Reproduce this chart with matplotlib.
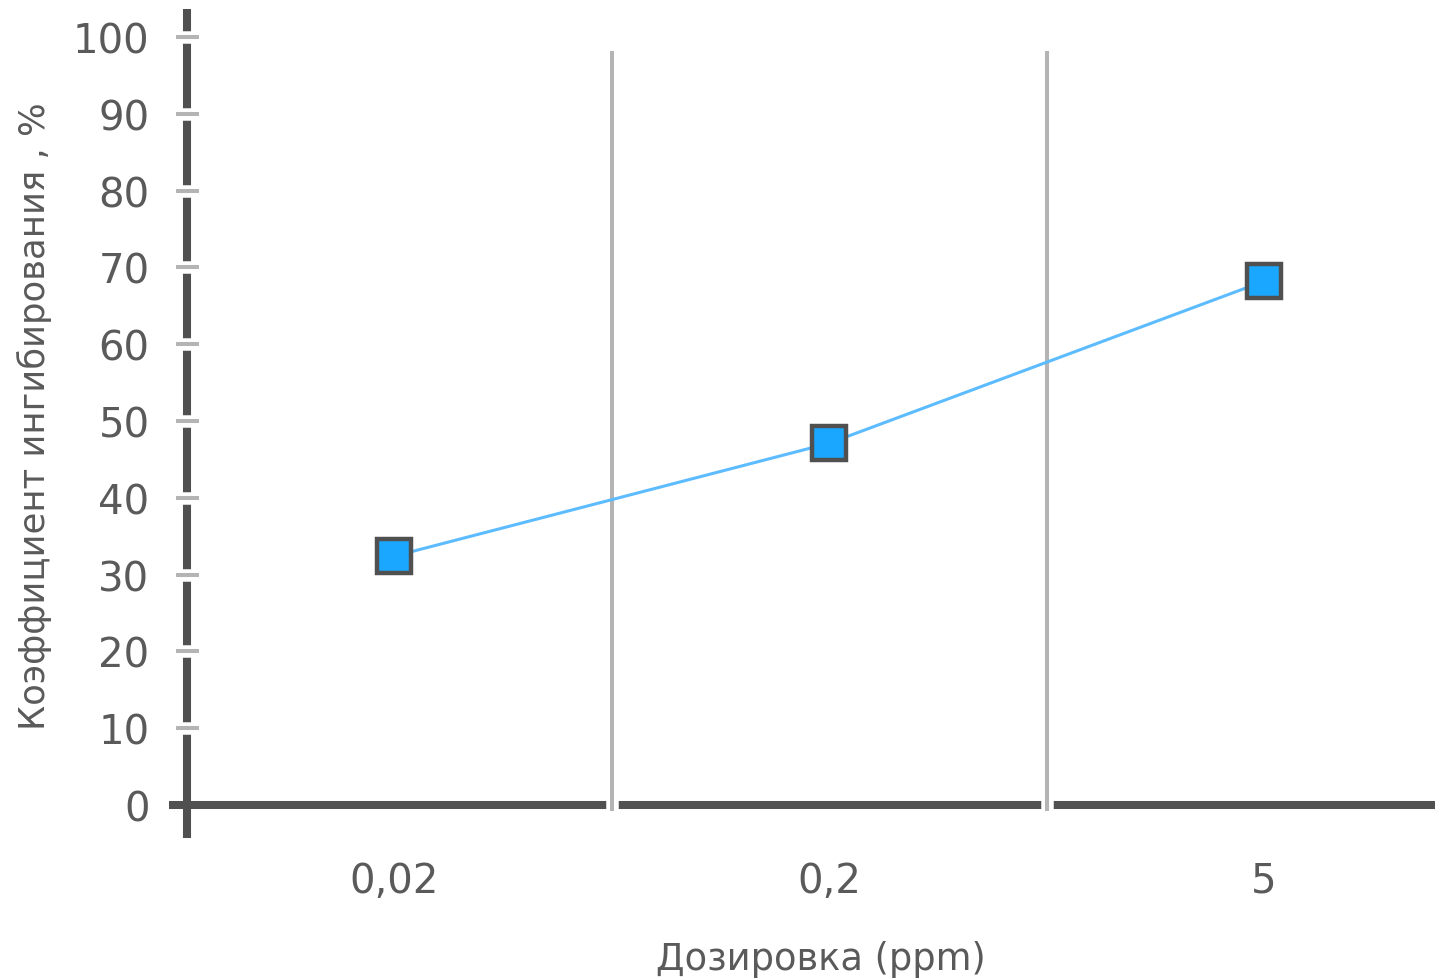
import matplotlib
matplotlib.use("Agg")
import matplotlib.pyplot as plt
import matplotlib.patheffects as pe
import matplotlib.transforms as mtransforms

# данные
doses = ["0,02", "0,2", "5"]
inhibition = [32.4, 47.1, 68.2]
y_ticks = [0, 10, 20, 30, 40, 50, 60, 70, 80, 90, 100]

axis_col = "#505050"
grid_col = "#b4b4b4"
text_col = "#5a5a5a"
line_col = "#5cbcff"
marker_col = "#1aa7ff"

plt.rcParams["font.family"] = ["DejaVu Sans"]

fig = plt.figure(figsize=(14.35, 9.79), dpi=100)
ax = fig.add_axes([187 / 1435, 173 / 979, 1 - 187 / 1435, 768 / 979])

x = list(range(len(doses)))
ax.set_xlim(-0.476, 2.393)
ax.set_ylim(0, 100)

for s in ax.spines.values():
    s.set_visible(False)

white = [pe.Stroke(linewidth=9, foreground="white"), pe.Normal()]

# ось Y
ytr = mtransforms.blended_transform_factory(ax.transAxes, ax.transData)
ax.plot([0, 0], [-4.3, 103.6], color=axis_col, lw=5.8, solid_capstyle="butt",
        transform=ytr, clip_on=False, zorder=1)
# ось X
ax.plot([-0.517, 2.393], [0, 0], color=axis_col, lw=5.8, solid_capstyle="butt",
        clip_on=False, zorder=1)

# штрихи на оси Y
for t in y_ticks[1:]:
    ax.plot([-0.0088, 0.0096], [t, t], color=grid_col, lw=2.9, solid_capstyle="butt",
            transform=ytr, clip_on=False, zorder=2, path_effects=white)

# вертикальные линии между категориями
for g in [0.5, 1.5]:
    ax.plot([g, g], [-0.78, 98.2], color=grid_col, lw=2.9, solid_capstyle="butt",
            clip_on=False, zorder=2, path_effects=white)

ax.plot(x, inhibition, color=line_col, lw=2.2, zorder=3)
ax.plot(x, inhibition, linestyle="none", marker="s", ms=24, mfc=marker_col,
        mec=axis_col, mew=3.2, zorder=4, clip_on=False)

ax.set_xticks(x)
ax.set_xticklabels(doses)
ax.set_yticks(y_ticks)
ax.tick_params(axis="both", length=0, labelsize=29, labelcolor=text_col)
ax.tick_params(axis="y", pad=27)
ax.tick_params(axis="x", pad=40)

ax.set_xlabel("Дозировка (ppm)", fontsize=26.5, color=text_col)
ax.xaxis.set_label_coords(0.508, -0.176)
ax.set_ylabel("Коэффициент ингибирования , %", fontsize=25.5, color=text_col)
ax.yaxis.set_label_coords(-0.108, 0.508)

fig.savefig("out.png", dpi=100)
